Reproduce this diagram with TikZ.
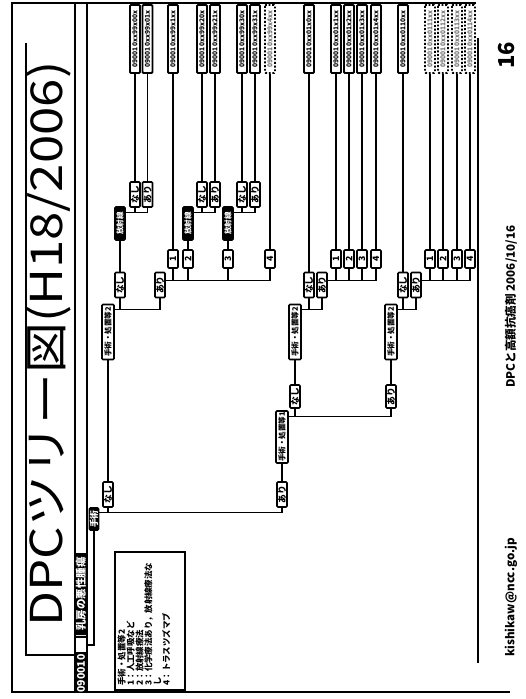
\documentclass[tikz,border=0pt]{standalone}
\usepackage{graphicx}
\usepackage{fontspec}
\setmainfont{Noto Sans CJK JP}
\usetikzlibrary{positioning,calc}
\newcommand{\labfont}{\bfseries\fontsize{4.3}{4.3}\selectfont}
\newcommand{\optfont}{\bfseries\fontsize{5}{5}\selectfont}
\newcommand{\codefont}{\bfseries\fontsize{3.8}{3.8}\selectfont}

\begin{document}
\begin{tikzpicture}[x=0.2mm, y=-0.2mm,
  wire/.style={line width=0.75pt},
  leafwire/.style={line width=0.6pt},
  tbox/.style={rotate=90, inner sep=0pt, rounded corners=0.6pt, line width=0.9pt, font=\labfont},
  option/.style={tbox, draw, fill=white, minimum width=5mm, minimum height=2mm, font=\optfont},
  numbox/.style={tbox, draw, fill=white, minimum width=3.6mm, minimum height=2mm, font=\optfont},
  procbox/.style={tbox, draw, fill=white, minimum width=11mm, minimum height=2.4mm},
  darkbox/.style={tbox, draw, fill=black, text=white, minimum width=6.6mm, minimum height=2mm},
  leaf/.style={tbox, draw, line width=1.1pt, minimum width=13.6mm, minimum height=2mm, font=\codefont},
  dotleaf/.style={leaf, densely dotted, text=black!55}]
\useasboundingbox (0,0) rectangle (526,699);
% slide frame
\draw[line width=1.2pt] (476,3) -- (12,3) -- (12,692) -- (510,692);
\draw[line width=0.8pt] (26,43) -- (26,655) -- (75,655);
\node[rotate=90, anchor=west, inner sep=0pt] (title) at (49,627)
  {\scalebox{1.16}[1]{\fontsize{25}{25}\selectfont DPCツリー図(H18/2006)}};
% header band
\draw[line width=0.9pt] (75,3) rectangle (87,692);
\node[tbox, fill=black, text=white, minimum width=7.4mm, minimum height=2.4mm, font=\bfseries\fontsize{6}{6}\selectfont] (code) at (81,673.5) {090010};
\node[tbox, draw, fill=white, minimum width=3.2mm, minimum height=2.4mm] (blank) at (81,645) {};
\node[tbox, fill=black, text=white, minimum width=16.4mm, minimum height=2.4mm, font=\bfseries\fontsize{6}{6}\selectfont] (disease) at (81,594) {乳房の悪性腫瘍};
% legend
\node[tbox, draw, rounded corners=0pt, minimum width=27.6mm, minimum height=14mm] (legend) at (150,621) {};
\node[rotate=90, anchor=north west, align=left, inner sep=0pt, font=\bfseries\fontsize{4.8}{5.1}\selectfont] (legtext) at ($(legend.north west)+(3,-5)$)
  {手術・処置等2\\1：人工呼吸など\\2：放射線療法\\3：化学療法あり，放射線療法な\\し\\4：トラスツズマブ};
% tree: surgery
\node[darkbox, minimum width=4.4mm, minimum height=1.8mm, font=\optfont] (surg) at (94,519) {手術};
\node[option] (surgN) at (108,494.5) {なし};
\node[option] (surgY) at (282,494.5) {あり};
\draw[wire] (blank.south) -| (surg.west);
\foreach \o in {surgN,surgY} \draw[wire] ($(surg.south east)+(0,5)$) -| (\o.west);
% surgery none
\node[procbox] (pA) at (108,332) {手術・処置等2};
\node[option] (pAN) at (120,285) {なし};
\node[option] (pAY) at (160,285) {あり};
\draw[wire] (surgN.east) -- (pA.west);
\foreach \o in {pAN,pAY} \draw[wire] ($(pA.south east)+(0,6)$) -| (\o.west);
\node[darkbox] (radA) at (120,223.5) {放射線};
\node[option] (radAN) at (135,194.5) {なし};
\node[option] (radAY) at (147.5,194.5) {あり};
\draw[wire] (pAN.east) -- (radA.west);
\foreach \o in {radAN,radAY} \draw[wire] ($(radA.south east)+(0,6)$) -| (\o.west);
\foreach \n/\x in {1/173,2/188,3/228,4/270}
  \node[numbox] (kA\n) at (\x,259) {\n};
\foreach \n in {1,...,4} \draw[wire] ($(pAY.south east)+(0,9)$) -| (kA\n.west);
\node[darkbox] (radB) at (188,223.5) {放射線};
\node[option] (radBN) at (202,194.5) {なし};
\node[option] (radBY) at (215,194.5) {あり};
\draw[wire] (kA2.east) -- (radB.west);
\foreach \o in {radBN,radBY} \draw[wire] ($(radB.south east)+(0,6)$) -| (\o.west);
\node[darkbox] (radC) at (228,223.5) {放射線};
\node[option] (radCN) at (242,194.5) {なし};
\node[option] (radCY) at (255,194.5) {あり};
\draw[wire] (kA3.east) -- (radC.west);
\foreach \o in {radCN,radCY} \draw[wire] ($(radC.south east)+(0,6)$) -| (\o.west);
% surgery done
\node[procbox, minimum width=10.4mm] (pOne) at (282,437) {手術・処置等1};
\node[option, minimum width=4.6mm] (pOneN) at (295,396.5) {なし};
\node[option, minimum width=4.6mm] (pOneY) at (391,396.5) {あり};
\draw[wire] (surgY.east) -- (pOne.west);
\foreach \o in {pOneN,pOneY} \draw[wire] ($(pOne.south east)+(0,6)$) -| (\o.west);
\node[procbox] (pB) at (295,332) {手術・処置等2};
\node[option] (pBN) at (309,285) {なし};
\node[option] (pBY) at (322,285) {あり};
\draw[wire] (pOneN.east) -- (pB.west);
\foreach \o in {pBN,pBY} \draw[wire] ($(pB.south east)+(0,6)$) -| (\o.west);
\foreach \n/\x in {1/336,2/349,3/362,4/376}
  \node[numbox] (kB\n) at (\x,259) {\n};
\foreach \n in {1,...,4} \draw[wire] ($(pBY.south east)+(0,9)$) -| (kB\n.west);
\node[procbox] (pC) at (391,332) {手術・処置等2};
\node[option] (pCN) at (403,285) {なし};
\node[option] (pCY) at (416,285) {あり};
\draw[wire] (pOneY.east) -- (pC.west);
\foreach \o in {pCN,pCY} \draw[wire] ($(pC.south east)+(0,6)$) -| (\o.west);
\foreach \n/\x in {1/430,2/443,3/457,4/470}
  \node[numbox] (kC\n) at (\x,259) {\n};
\foreach \n in {1,...,4} \draw[wire] ($(pCY.south east)+(0,9)$) -| (kC\n.west);
% DPC codes
\foreach \n/\x/\c/\p in {1/135/090010xx99x00x/radAN, 2/147.5/090010xx99x01x/radAY,
    3/173/090010xx99x1xx/kA1, 4/202/090010xx99x20x/radBN, 5/215/090010xx99x21x/radBY,
    6/242/090010xx99x30x/radCN, 7/255/090010xx99x31x/radCY, 9/309/090010xx01x0xx/pBN,
    10/336/090010xx01x1xx/kB1, 11/349/090010xx01x2xx/kB2, 12/362/090010xx01x3xx/kB3,
    13/376/090010xx01x4xx/kB4, 14/403/090010xx0110xx/pCN}
  {\node[leaf] (lf\n) at (\x,39) {\c};
   \draw[leafwire] (\p.east) -- (lf\n.west);}
\foreach \n/\x/\c/\p in {8/270/090010xx99x4xx/kA4, 15/430/090010xx0111xx/kC1,
    16/443/090010xx0112xx/kC2, 17/457/090010xx0113xx/kC3, 18/470/090010xx0114xx/kC4}
  {\node[dotleaf] (lf\n) at (\x,39) {\c};
   \draw[leafwire] (\p.east) -- (lf\n.west);}
% footer
\draw[line width=1.2pt] (478,38) -- (478,663);
\node[rotate=90, font=\bfseries\fontsize{12.5}{12.5}\selectfont] (page) at (507,55) {16};
\node[rotate=90, anchor=west, inner sep=0pt, font=\bfseries\fontsize{6.6}{6.6}\selectfont] (foot) at (511,388) {DPCと高額抗癌剤 2006/10/16};
\node[rotate=90, anchor=west, inner sep=0pt, font=\bfseries\fontsize{6.6}{6.6}\selectfont] (mail) at (511,657) {kishikaw@ncc.go.jp};
\end{tikzpicture}
\end{document}
